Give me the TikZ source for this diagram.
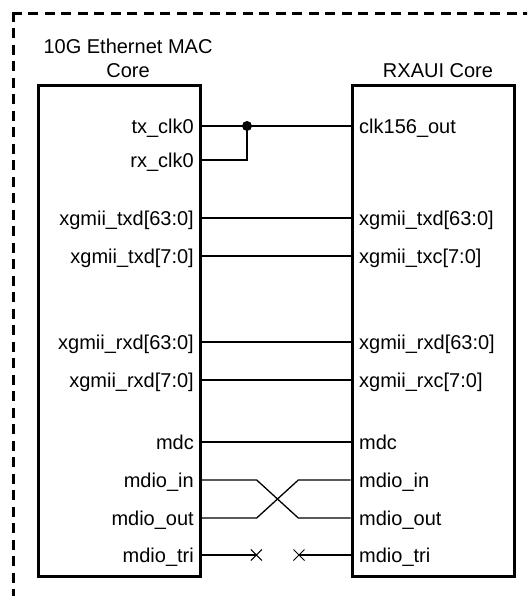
\documentclass[tikz,border=0pt]{standalone}
\usepackage{fontspec}
\setmainfont{Liberation Sans}
\begin{document}
\begin{tikzpicture}[x=1pt,y=-1pt,
  box/.style={draw, line width=3pt, inner sep=0pt, minimum width=162pt, minimum height=490pt},
  lab/.style={font=\fontsize{20}{24}\selectfont, text height=14.3pt, text depth=0pt, inner sep=0pt},
  ttl/.style={font=\fontsize{20}{24}\selectfont, inner sep=0pt, anchor=base},
  wire/.style={line width=1.3pt},
  xmark/.style={line width=1pt},
  frame/.style={line width=3pt, dash pattern=on 10pt off 6.5pt}]
\useasboundingbox (0,0) rectangle (527,596);
\begin{scope}
\clip (0,0) rectangle (527,596);
\draw[frame] (13.4,11.9) -- (13.4,620);
\draw[frame] (11.9,13.4) -- (560,13.4);
\end{scope}
% boxes
\node[box] (mac) at (119,331) {};
\node[box] (rxaui) at (433,331) {};
% titles
\node[ttl] (mact1) at (128,54) {10G Ethernet MAC};
\node[ttl] (mact2) at (128,78) {Core};
\node[ttl] (rxt) at (438,78) {RXAUI Core};
% left labels
\node[lab, anchor=east] (ltx) at (194,126) {tx\_clk0};
\node[lab, anchor=east] (lrx) at (194,160) {rx\_clk0};
\node[lab, anchor=east] (ltd) at (194,218) {xgmii\_txd[63:0]};
\node[lab, anchor=east] (ltc) at (194,256) {xgmii\_txd[7:0]};
\node[lab, anchor=east] (lrd) at (194,342) {xgmii\_rxd[63:0]};
\node[lab, anchor=east] (lrc) at (194,380) {xgmii\_rxd[7:0]};
\node[lab, anchor=east] (lmdc) at (194,442) {mdc};
\node[lab, anchor=east] (lin) at (194,480) {mdio\_in};
\node[lab, anchor=east] (lout) at (194,518) {mdio\_out};
\node[lab, anchor=east] (ltri) at (194,555) {mdio\_tri};
% right labels
\node[lab, anchor=west] (rclk) at (359,126) {clk156\_out};
\node[lab, anchor=west] (rtd) at (359,218) {xgmii\_txd[63:0]};
\node[lab, anchor=west] (rtc) at (359,256) {xgmii\_txc[7:0]};
\node[lab, anchor=west] (rrd) at (359,342) {xgmii\_rxd[63:0]};
\node[lab, anchor=west] (rrc) at (359,380) {xgmii\_rxc[7:0]};
\node[lab, anchor=west] (rmdc) at (359,442) {mdc};
\node[lab, anchor=west] (rin) at (359,480) {mdio\_in};
\node[lab, anchor=west] (rout) at (359,518) {mdio\_out};
\node[lab, anchor=west] (rtri) at (359,555) {mdio\_tri};
% clocks
\coordinate (j) at (247,126);
\draw[wire] (ltx.east -| mac.east) -- (rclk.west -| rxaui.west);
\draw[wire] (lrx.east -| mac.east) -| (j);
\fill (j) circle (5pt);
% data
\draw[wire] (ltd.east -| mac.east) -- (rtd.west -| rxaui.west);
\draw[wire] (ltc.east -| mac.east) -- (rtc.west -| rxaui.west);
\draw[wire] (lrd.east -| mac.east) -- (rrd.west -| rxaui.west);
\draw[wire] (lrc.east -| mac.east) -- (rrc.west -| rxaui.west);
\draw[wire] (lmdc.east -| mac.east) -- (rmdc.west -| rxaui.west);
% crossover
\coordinate (xa) at (256.7,480);
\coordinate (xb) at (298.3,518);
\coordinate (xc) at (256.7,518);
\coordinate (xd) at (298.3,480);
\draw[wire] (lin.east -| mac.east) -- (xa) -- (xb) -- (rout.west -| rxaui.west);
\draw[wire] (lout.east -| mac.east) -- (xc) -- (xd) -- (rin.west -| rxaui.west);
% tristate
\coordinate (tl) at (256.3,555);
\coordinate (tr) at (299,555);
\draw[wire] (ltri.east -| mac.east) -- (tl);
\draw[wire] (rtri.west -| rxaui.west) -- (tr);
\draw[xmark] (tl) ++(-5.5,-5.5) -- ++(11,11) (tl) ++(-5.5,5.5) -- ++(11,-11);
\draw[xmark] (tr) ++(-5.5,-5.5) -- ++(11,11) (tr) ++(-5.5,5.5) -- ++(11,-11);
\end{tikzpicture}
\end{document}
